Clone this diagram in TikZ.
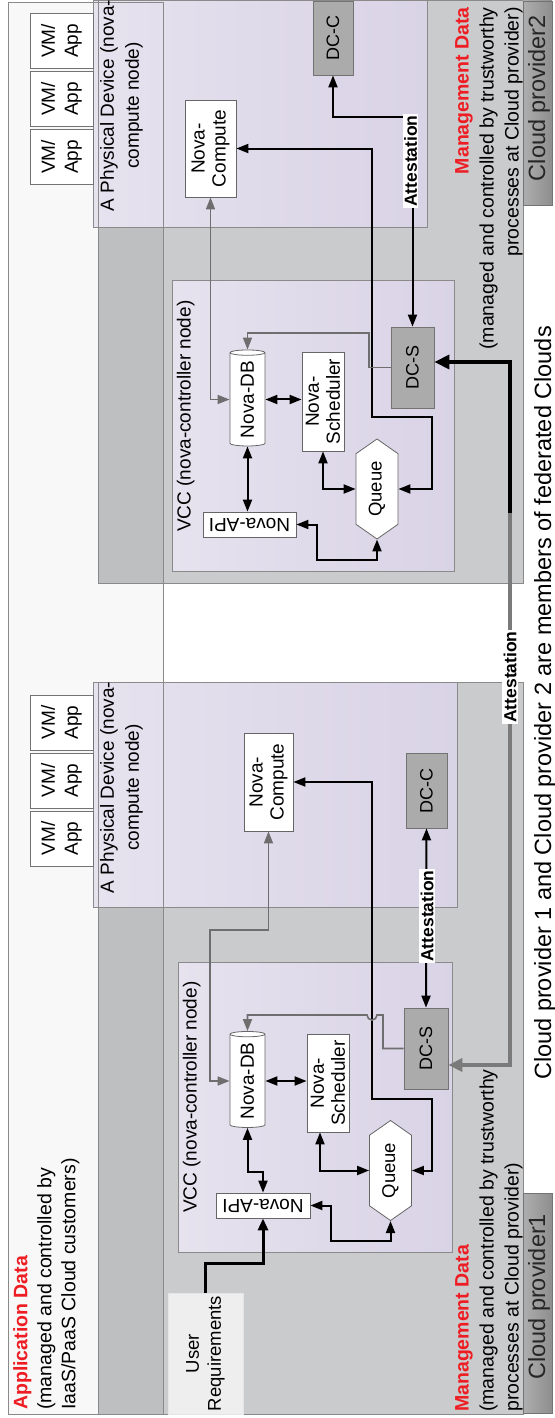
\documentclass[tikz,border=0pt]{standalone}
\usepackage{fontspec}
\setmainfont{Liberation Sans}
\usetikzlibrary{arrows.meta,shapes.geometric,shapes.symbols}
\definecolor{appfill}{HTML}{F8F8F8}
\definecolor{provgray}{HTML}{CACBCC}
\definecolor{provdark}{HTML}{BEBFC0}
\definecolor{lineframe}{HTML}{8A8A8A}
\definecolor{vccleft}{HTML}{E6E2EE}
\definecolor{vccright}{HTML}{D9D3E6}
\definecolor{dcgray}{HTML}{ABABAB}
\definecolor{tableft}{HTML}{AEAEAE}
\definecolor{tabright}{HTML}{8E8E8E}
\definecolor{linkgray}{HTML}{6E6E6E}
\definecolor{fedgray}{HTML}{7A7A7A}
\definecolor{mdred}{HTML}{EE1D23}
\definecolor{reqfill}{HTML}{EEEEEE}
\begin{document}
\begin{tikzpicture}[x=1pt, y=-1pt,
    >={Triangle[length=12pt,width=9pt]},
    regionline/.style={draw=lineframe, line width=1pt},
    nodebox/.style={draw=black!60, fill=white, line width=0.8pt, inner sep=1pt, align=center, font=\fontsize{19}{21}\selectfont},
    upbox/.style={nodebox, rotate=90},
    apibox/.style={nodebox, rotate=180, minimum width=94pt, minimum height=25pt, inner sep=0pt},
    dbbox/.style={upbox, shape=cylinder, aspect=0.4, minimum width=35pt, minimum height=96pt, inner sep=0pt},
    queuebox/.style={upbox, shape=signal, signal to=east and west, signal pointer angle=110, minimum width=100pt, minimum height=42pt, inner sep=0pt, font=\fontsize{18.5}{20}\selectfont},
    dcbox/.style={upbox, fill=dcgray, draw=black!55, font=\fontsize{18}{20}\selectfont},
    vmbox/.style={upbox, draw=black!55, minimum width=55pt, minimum height=63pt, font=\fontsize{19}{23}\selectfont},
    reqbox/.style={upbox, fill=reqfill, draw=black!10, minimum width=121pt, minimum height=75pt, font=\fontsize{18.5}{22}\selectfont},
    link/.style={line width=2pt},
    graylink/.style={draw=linkgray, line width=1.6pt},
    attlabel/.style={rotate=90, fill=white, inner sep=1.5pt, font=\bfseries\fontsize{17.5}{19}\selectfont},
    textlab/.style={rotate=90, inner sep=0pt, font=\fontsize{19}{21}\selectfont}]
    \useasboundingbox (0,0) rectangle (554,1418);

    % dati applicazione e provider
    \fill[appfill] (8,3) rectangle (163,1414);
    \draw[regionline, fill=provgray] (98,1) rectangle (523,583);
    \draw[regionline, fill=provgray] (98,682) rectangle (523,1414);
    \fill[provdark] (98.5,1.5) rectangle (163,582.5);
    \fill[provdark] (98.5,682.5) rectangle (163,1413.5);

    % dispositivi fisici
    \draw[regionline, left color=vccleft, right color=vccright] (93,1) rectangle (427,227);
    \draw[regionline, left color=vccleft, right color=vccright] (93,682) rectangle (457,907);
    \draw[regionline] (8,3) rectangle (163,1414);
    \draw[regionline] (98,1) rectangle (523,583);
    \draw[regionline] (98,682) rectangle (523,1414);

    % VCC
    \draw[regionline, left color=vccleft, right color=vccright] (172,280) rectangle (454,571);
    \draw[regionline, left color=vccleft, right color=vccright] (178,962) rectangle (452,1252);

    % linguette
    \draw[draw=black!55, left color=tableft, right color=tabright] (523,1) rectangle (552,205);
    \draw[draw=black!55, left color=tableft, right color=tabright] (523,1193) rectangle (552,1413);

    % provider 1
    \node[reqbox] (user) at (205.5,1353.5) {User\\Requirements};
    \node[apibox] (api1) at (263,1205.5) {Nova-API};
    \node[dbbox] (db1) at (247.5,1081) {Nova-DB};
    \node[upbox, minimum width=98pt, minimum height=42pt] (sched1) at (328,1083) {Nova-\\Scheduler};
    \node[queuebox] (queue1) at (390.5,1170.5) {Queue};
    \node[dcbox, minimum width=81pt, minimum height=44pt] (dcs1) at (426,1048.5) {DC-S};
    \node[dcbox, minimum width=75pt, minimum height=41pt] (dcc1) at (426.5,790.5) {DC-C};
    \node[upbox, minimum width=98pt, minimum height=49pt] (comp1) at (268.5,782) {Nova-\\Compute};
    \node[vmbox] (vm1a) at (61.5,722.5) {VM/\\App};
    \node[vmbox] (vm1b) at (61.5,780.5) {VM/\\App};
    \node[vmbox] (vm1c) at (61.5,838.5) {VM/\\App};

    % provider 2
    \node[apibox, minimum width=93pt] (api2) at (249.5,524.5) {Nova-API};
    \node[dbbox] (db2) at (247.5,399.5) {Nova-DB};
    \node[upbox, minimum width=99pt, minimum height=42pt] (sched2) at (323,401.5) {Nova-\\Scheduler};
    \node[queuebox] (queue2) at (377,489) {Queue};
    \node[dcbox, minimum width=81pt, minimum height=43pt] (dcs2) at (412.5,367.5) {DC-S};
    \node[dcbox, minimum width=74pt, minimum height=40pt] (dcc2) at (333,38) {DC-C};
    \node[upbox, minimum width=97pt, minimum height=51pt] (comp2) at (210.5,148.5) {Nova-\\Compute};
    \node[vmbox] (vm2a) at (61.5,41) {VM/\\App};
    \node[vmbox] (vm2b) at (61.5,99) {VM/\\App};
    \node[vmbox] (vm2c) at (61.5,157) {VM/\\App};

    % frecce provider 1
    \draw[link, line width=3pt, -{Triangle[length=12pt,width=10pt]}] (user) |- (263,1263) -- (api1);
    \draw[link, <->] (db1) |- (263,1172) -- (api1);
    \draw[link, <->] (db1.south) -- (db1.south -| sched1.north);
    \draw[link, <->] (queue1) |- (331,1241) |- (api1);
    \draw[link, <->] ([xshift=-8pt]sched1.west) |- (queue1);
    \draw[link, <->] (queue1) -| (432,1099) -- (372,1099) |- (comp1);
    \draw[graylink, ->] (dcs1) -| (383,1015) -- (377,1015) arc[start angle=0, end angle=180, radius=5] -| (db1);
    \draw[graylink, <->] (db1) -| (210,930) -| (comp1);
    \draw[link, <->] (dcs1.east) -- (dcc1.west);
    \node[attlabel] (att1) at (427,916) {Attestation};

    % frecce provider 2
    \draw[link, <->] (db2) -- (db2 |- api2.south);
    \draw[link, <->] (db2.south) -- (db2.south -| sched2.north);
    \draw[link, <->] (queue2) |- (317,560) |- (api2);
    \draw[link, <->] (sched2) |- (queue2);
    \draw[link, <->] (queue2) -| (432,417) -- (372,417) |- (comp2);
    \draw[graylink, ->] (dcs2) -| (369,333) -| (db2);
    \draw[graylink, <->] (db2) -| (comp2);
    \draw[link, <->] (dcs2) |- (333,117) -- (dcc2);
    \node[attlabel] (att2) at (410.5,161) {Attestation};

    % attestazione tra i provider
    \coordinate (fedtop) at (510,362);
    \coordinate (fedmid) at (510,513);
    \coordinate (fedbot) at (510,1065);
    \draw[line width=3.5pt, -{Triangle[length=15pt,width=14pt]}] (fedmid) |- (dcs2.south |- fedtop);
    \draw[fedgray, line width=3.5pt, -{Triangle[length=14pt,width=13pt]}] (fedmid) |- (dcs1.south |- fedbot);
    \node[attlabel] (att3) at (510,677) {Attestation};

    % testi
    \node[textlab, anchor=north west, align=left, font=\fontsize{19.5}{24}\selectfont] (appdata) at (13,1410)
        {\textcolor{mdred}{\bfseries Application Data}\\(managed and controlled by\\IaaS/PaaS Cloud customers)};
    \node[textlab, anchor=north west, align=left, font=\fontsize{19.5}{25}\selectfont] (mgmt1) at (455,1412)
        {\textcolor{mdred}{\bfseries Management Data}\\(managed and controlled by trustworthy\\processes at Cloud provider)};
    \node[textlab, anchor=north east, align=right, font=\fontsize{19.5}{25}\selectfont] (mgmt2) at (455,7)
        {\textcolor{mdred}{\bfseries Management Data}\\(managed and controlled by trustworthy\\processes at Cloud provider)};
    \node[textlab, anchor=north, align=center, font=\fontsize{19}{25}\selectfont] (pdlab1) at (100,787.5) {A Physical Device (nova-\\compute node)};
    \node[textlab, anchor=north, align=center, font=\fontsize{19}{25}\selectfont] (pdlab2) at (100,105.5) {A Physical Device (nova-\\compute node)};
    \node[textlab, anchor=base west] (vcclab1) at (196.5,1213) {VCC (nova-controller node)};
    \node[textlab, anchor=base west] (vcclab2) at (190.5,532) {VCC (nova-controller node)};
    \node[textlab, anchor=base west, font=\fontsize{23.5}{26}\selectfont, text=black!85] (tab1) at (545,1380) {Cloud provider1};
    \node[textlab, anchor=base east, font=\fontsize{23.5}{26}\selectfont, text=black!85] (tab2) at (545,15) {Cloud provider2};
    \node[textlab, anchor=base west, font=\fontsize{23.5}{26}\selectfont] (caption) at (551,1080)
        {Cloud provider 1 and Cloud provider 2 are members of federated Clouds};
\end{tikzpicture}
\end{document}
